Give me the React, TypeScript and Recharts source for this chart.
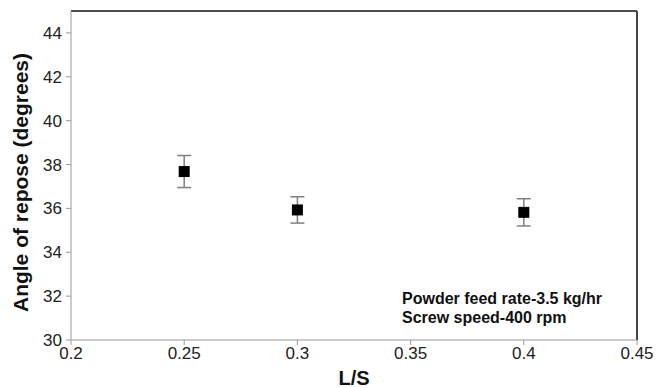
import React from 'react';
import {
  ScatterChart,
  Scatter,
  XAxis,
  YAxis,
  ErrorBar,
  ReferenceLine,
} from 'recharts';

const ratios = [0.25, 0.3, 0.4];
const angles = [37.68, 35.93, 35.82];
const errors = [0.73, 0.6, 0.62];
const xTicks = [0.2, 0.25, 0.3, 0.35, 0.4, 0.45];
const yTicks = [30, 32, 34, 36, 38, 40, 42, 44];

const data = ratios.map((r, i) => ({ ls: r, angle: angles[i], err: errors[i] }));

const font = 'Liberation Sans, Arial, sans-serif';

const YTitle = (props: any) => {
  const vb = props.viewBox;
  const cx = 20;
  const cy = vb.y + vb.height / 2 + 7;
  return (
    <text
      x={cx}
      y={cy}
      transform={`rotate(-90, ${cx}, ${cy})`}
      textAnchor="middle"
      dominantBaseline="central"
      fontFamily={font}
      fontSize={21}
      fontWeight="bold"
      fill="#111"
    >
      Angle of repose (degrees)
    </text>
  );
};

const XTitle = (props: any) => {
  const vb = props.viewBox;
  return (
    <text
      x={vb.x + vb.width / 2}
      y={385}
      textAnchor="middle"
      fontFamily={font}
      fontSize={20}
      fontWeight="bold"
      fill="#111"
    >
      L/S
    </text>
  );
};

// square marker, 11px
const Square = (p: any) => (
  <rect x={p.cx - 5.5} y={p.cy - 5.5} width={11} height={11} fill="#000" />
);

export default function App() {
  return (
    <div style={{ position: 'absolute', left: 0, top: 0, width: 661, height: 388, fontFamily: font }}>
      <ScatterChart width={661} height={388} margin={{ top: 11, right: 24, bottom: 0, left: 0 }}>
        <XAxis
          type="number"
          dataKey="ls"
          domain={[0.2, 0.45]}
          ticks={xTicks}
          height={48}
          stroke="#999"
          tickSize={5}
          tickMargin={2}
          tick={{ fill: '#222', fontSize: 17, fontFamily: font }}
          label={<XTitle />}
        />
        <YAxis
          type="number"
          dataKey="angle"
          domain={[30, 45]}
          ticks={yTicks}
          width={71}
          stroke="#999"
          tickSize={5}
          tickMargin={4}
          tick={{ fill: '#222', fontSize: 17, fontFamily: font }}
          label={<YTitle />}
        />
        <ReferenceLine y={45} stroke="#111" strokeWidth={1.5} />
        <ReferenceLine x={0.45} stroke="#444" strokeWidth={2} />
        <Scatter data={data} shape={Square} fill="#000" isAnimationActive={false}>
          <ErrorBar dataKey="err" direction="y" width={7} stroke="#808080" strokeWidth={1.5} />
        </Scatter>
      </ScatterChart>
      <div
        style={{
          position: 'absolute',
          left: 402,
          top: 289,
          fontSize: 16,
          fontWeight: 'bold',
          lineHeight: '19px',
          color: '#111',
          whiteSpace: 'nowrap',
        }}
      >
        <div>Powder feed rate-3.5 kg/hr</div>
        <div>Screw speed-400 rpm</div>
      </div>
    </div>
  );
}
